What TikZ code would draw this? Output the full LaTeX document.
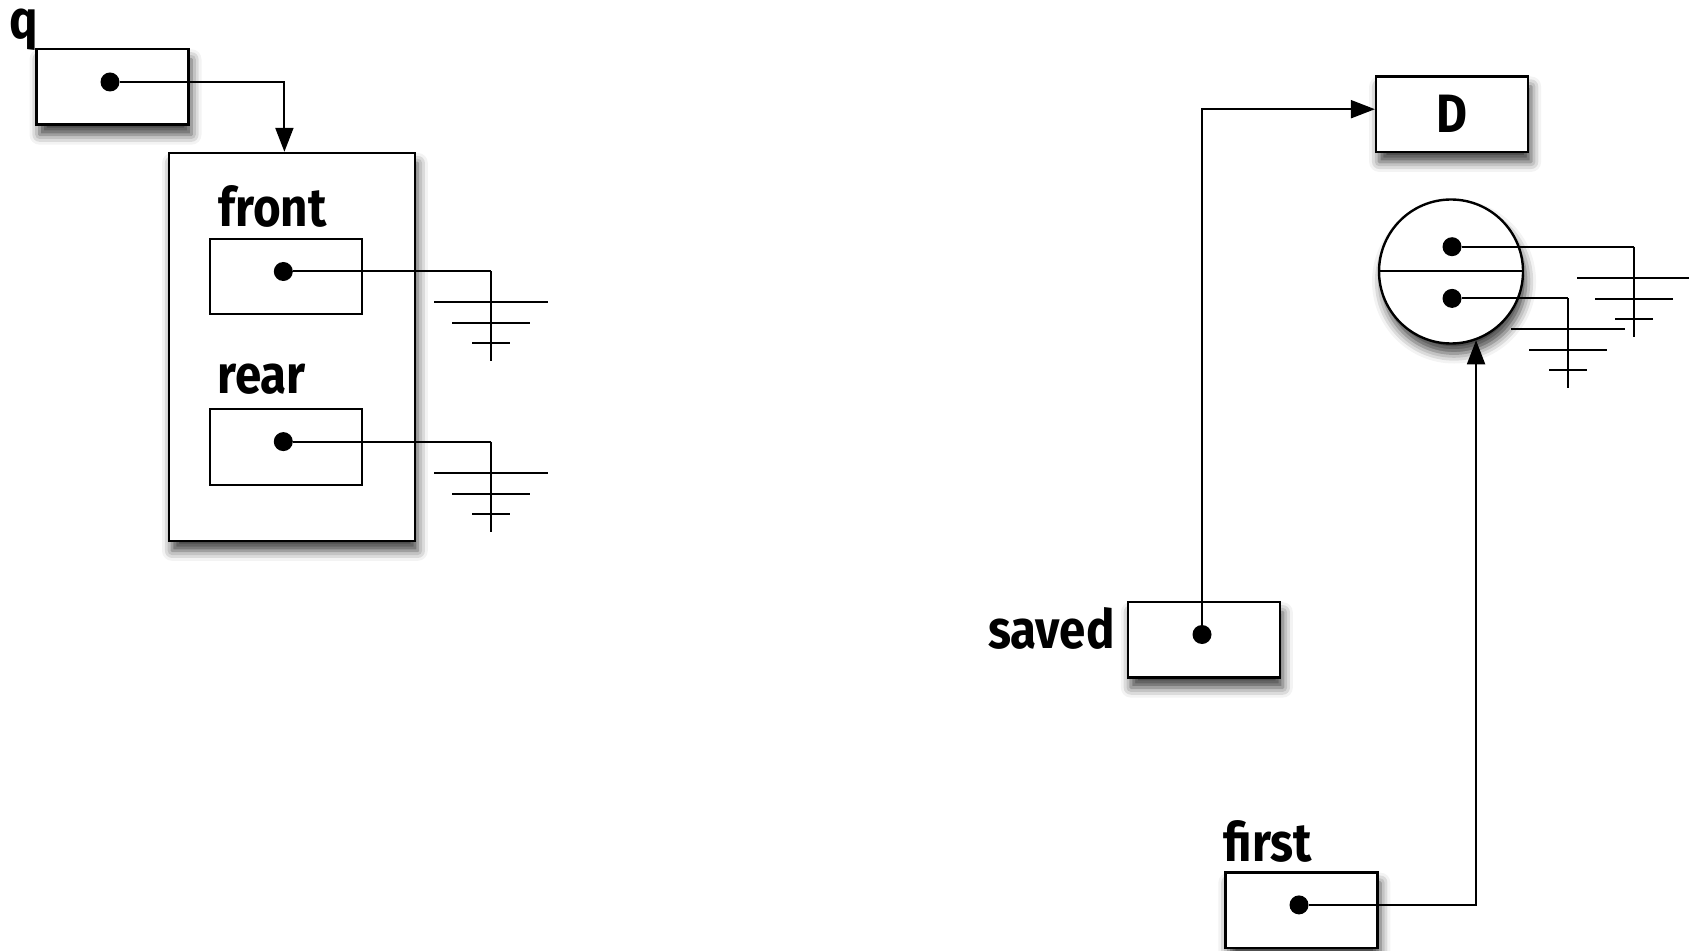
\documentclass[tikz,border=0pt]{standalone}
\usepackage{fontspec}
\setmainfont[FakeStretch=0.88]{Fira Sans}
\usetikzlibrary{arrows.meta, positioning, shadows.blur}

\tikzset{
  cell/.style={draw, line width=1.2pt, fill=white, minimum width=76pt, minimum height=37.7pt, inner sep=0pt,
    blur shadow={shadow xshift=1.5pt, shadow yshift=-5pt, shadow blur radius=5pt, shadow opacity=75}},
  slot/.style={draw, line width=1pt, fill=white, minimum width=76pt, minimum height=37.7pt, inner sep=0pt},
  dot/.style={circle, fill, inner sep=0pt, minimum size=9.5pt},
  lbl/.style={font=\fontsize{27}{29}\selectfont\bfseries, inner sep=0pt},
  link/.style={line width=1pt},
  ptr/.style={link, -{Triangle[length=12pt, width=9pt]}},
  earth/.pic={
    \draw[link] (0,0) -- (0,90);
    \draw[link] (-57,31) -- (57,31);
    \draw[link] (-39,52) -- (39,52);
    \draw[link] (-19,72) -- (19,72);
  }
}

\begin{document}
\begin{tikzpicture}[x=0.5pt, y=-0.5pt]
  \useasboundingbox (0,0) rectangle (1689,951);

  % queue record on the left
  \node[lbl, anchor=north] (qlbl) at (24,9) {q};
  \node[cell] (qbox) at (112.5,87) {};
  \node[dot] (qdot) at (110,82) {};

  \node[cell, minimum width=122.9pt, minimum height=193.9pt] (queue) at (291.9,346.9) {};
  \node[lbl] (frontlbl) at (272.5,206.8) {front};
  \node[slot] (front) at (286,276.8) {};
  \node[dot] (fdot) at (283.3,271.5) {};
  \node[lbl] (rearlbl) at (261.8,379) {rear};
  \node[slot] (rear) at (286,447) {};
  \node[dot] (rdot) at (283.3,441.6) {};

  \draw[ptr] (qdot) -| ([xshift=-3.75pt]queue.north);

  \coordinate (g1) at (491.2,271.5);
  \coordinate (g2) at (491.2,441.6);
  \draw[link] (fdot) -- (g1);
  \draw[link] (rdot) -- (g2);
  \pic at (g1) {earth};
  \pic at (g2) {earth};

  % list on the right
  \node[cell, lbl, line width=1.2pt] (dbox) at (1452.1,114.2) {D};

  \node[circle, draw, line width=1.2pt, fill=white, minimum size=72pt, inner sep=0pt,
    blur shadow={shadow xshift=1.5pt, shadow yshift=-5pt, shadow blur radius=5pt, shadow opacity=75}] (circ) at (1451,271.5) {};
  \draw[link] (circ.west) -- (circ.east);
  \node[dot] (cdot1) at (1452,246.7) {};
  \node[dot] (cdot2) at (1452,298.4) {};

  \coordinate (g3) at (1634,246.7);
  \coordinate (g4) at (1568.4,298.4);
  \draw[link] (cdot1) -- (g3);
  \draw[link] (cdot2) -- (g4);
  \pic at (g3) {earth};
  \pic at (g4) {earth};

  \node[cell] (saved) at (1203.8,639.9) {};
  \node[lbl, anchor=east] (savedlbl) at (1115,628) {saved};
  \node[dot] (sdot) at (1202,634.5) {};

  \node[lbl] (firstlbl) at (1268,841) {first};
  \node[cell] (first) at (1301.3,910.3) {};
  \node[dot] (idot) at (1299,904.9) {};

  \draw[ptr] (sdot) |- ([yshift=2.5pt]dbox.west);
  \draw[ptr] (idot) -| (circ.-70);
\end{tikzpicture}
\end{document}
